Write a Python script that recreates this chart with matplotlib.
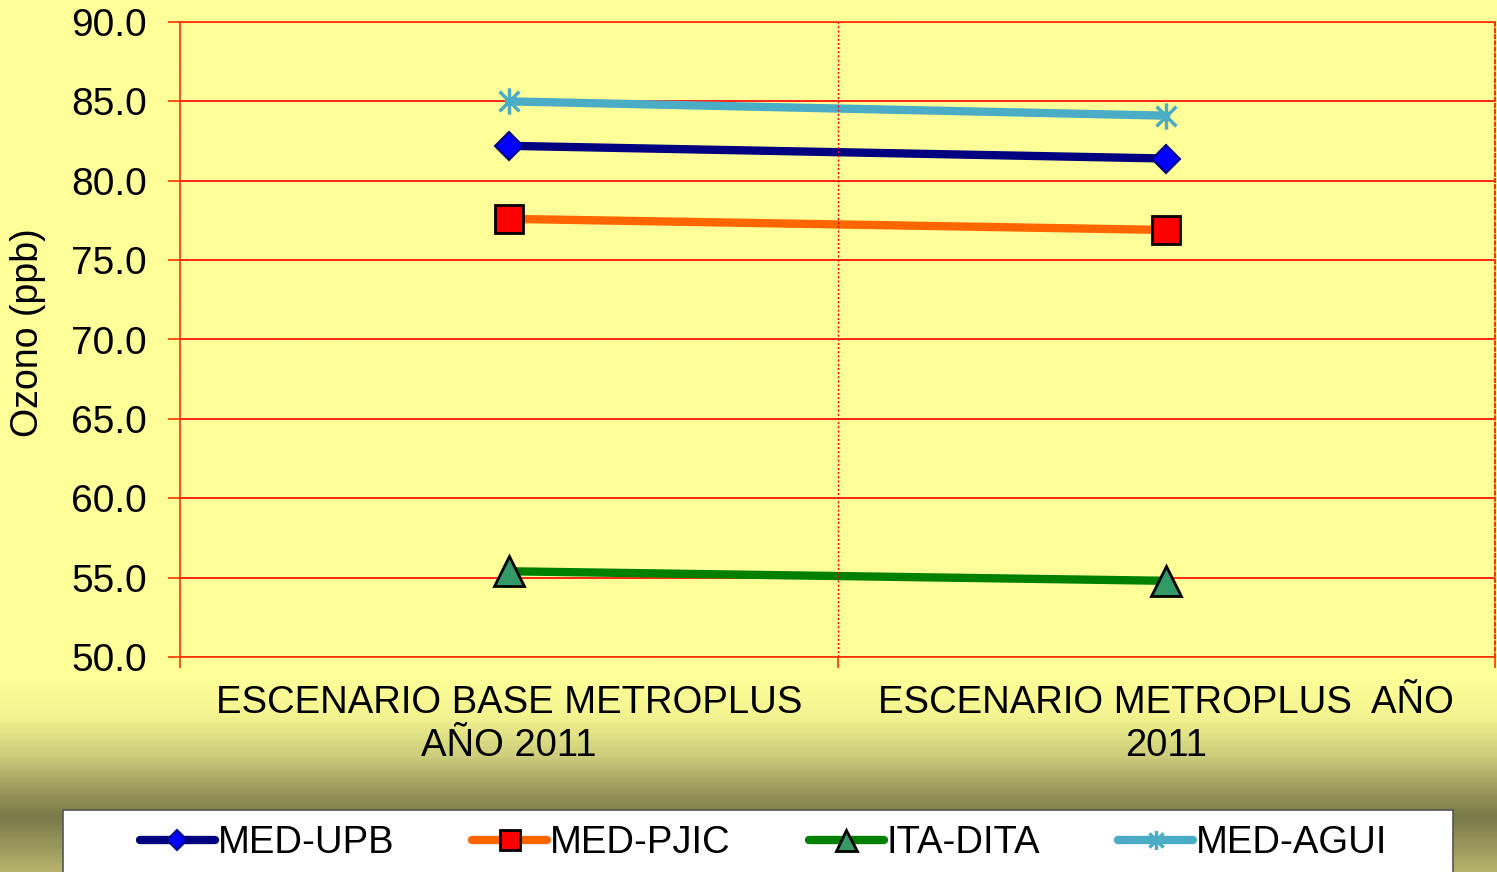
import numpy as np
import matplotlib
matplotlib.use("Agg")
import matplotlib.pyplot as plt
from matplotlib.colors import LinearSegmentedColormap
from matplotlib.path import Path
from matplotlib.patches import Rectangle

plt.rcParams["font.family"] = ["Liberation Sans", "DejaVu Sans"]

# --- data ---
categories = ["ESCENARIO BASE METROPLUS\nAÑO 2011", "ESCENARIO METROPLUS  AÑO\n2011"]
series_names = ["MED-UPB", "MED-PJIC", "ITA-DITA", "MED-AGUI"]
med_upb = [82.2, 81.4]
med_pjic = [77.6, 76.9]
ita_dita = [55.4, 54.8]
med_agui = [85.0, 84.1]
y_ticks = [50, 55, 60, 65, 70, 75, 80, 85, 90]

W, H = 1497, 872
FS = 27.5
fig = plt.figure(figsize=(W / 100, H / 100), dpi=100)

# background gradient (yellow -> olive near the bottom)
bg = fig.add_axes([0, 0, 1, 1], zorder=-10)
stops = [(0.0, "#FFFF99"), (680 / H, "#FFFF99"), (720 / H, "#F2F28F"),
         (760 / H, "#CACA7A"), (795 / H, "#959559"), (820 / H, "#7A7A4A"),
         (1.0, "#B3B16A")]
cmap = LinearSegmentedColormap.from_list("bg", stops)
bg.imshow(np.linspace(0, 1, 400).reshape(-1, 1), aspect="auto", cmap=cmap,
          extent=[0, 1, 0, 1], origin="upper")
bg.set_axis_off()

# plot area
ax = fig.add_axes([180 / W, 1 - 657 / H, (1495 - 180) / W, (657 - 22) / H])
ax.set_facecolor("none")
x = np.arange(len(categories))

asterisk = Path([(0, -1), (0, 1), (-0.75, -0.75), (0.75, 0.75), (-0.75, 0.75), (0.75, -0.75)],
                [Path.MOVETO, Path.LINETO, Path.MOVETO, Path.LINETO, Path.MOVETO, Path.LINETO])

lw = 6
ax.plot(x, med_upb, color="#000080", lw=lw, marker="D", ms=14.5,
        mfc="#0000FF", mec="#000080", mew=1.5, label=series_names[0], solid_capstyle="round")
ax.plot(x, med_pjic, color="#FF6600", lw=lw, marker="s", ms=20,
        mfc="#FF0000", mec="black", mew=2, label=series_names[1], solid_capstyle="round")
ax.plot(x, ita_dita, color="#008000", lw=lw, marker="^", ms=21,
        mfc="#339966", mec="black", mew=2, label=series_names[2], solid_capstyle="round")
ax.plot(x, med_agui, color="#4BACC6", lw=lw, marker=asterisk, ms=19,
        mfc="none", mec="#4BACC6", mew=2.5, label=series_names[3], solid_capstyle="round")

ax.set_xlim(-0.5, 1.5)
ax.set_ylim(50, 90)
ax.set_yticks(y_ticks)
ax.set_yticklabels([f"{v:.1f}" for v in y_ticks], fontsize=28)
ax.set_xticks(x)
ax.set_xticklabels(categories, fontsize=FS, linespacing=1.25)
ax.set_xticks([-0.5, 0.5, 1.5], minor=True)
ax.tick_params(axis="x", which="major", length=0, pad=20)
ax.tick_params(axis="x", which="minor", length=8, color="#FF3300", width=1.2)
ax.tick_params(axis="y", length=9, color="#FF3300", width=1.2, pad=15)

ax.grid(axis="y", color="#FF0000", lw=1.2)
ax.axvline(0.5, color="#FF0000", lw=1.0, ls=(0, (1.5, 1.5)))
for side in ["left", "bottom", "top"]:
    ax.spines[side].set_color("#FF3300")
    ax.spines[side].set_linewidth(1.2)
ax.spines["right"].set_color("#FF3300")
ax.spines["right"].set_linestyle((0, (1.5, 1.5)))
ax.spines["right"].set_linewidth(1.5)
ax.set_axisbelow(True)

fig.text(28 / W, 1 - 333 / H, "Ozono (ppb)", rotation=90, fontsize=27,
         ha="center", va="center")

# legend box
fig.patches.append(Rectangle((63 / W, -0.05), (1453 - 63) / W, 0.05 + (872 - 810) / H,
                             transform=fig.transFigure, facecolor="white",
                             edgecolor="#555555", lw=1.2, zorder=1))
leg = fig.legend(loc="center left", bbox_to_anchor=(140 / W, 1 - 843 / H), ncol=4,
                 frameon=False, fontsize=FS, handlelength=1.96, handletextpad=0.08,
                 columnspacing=2.04, borderaxespad=0, borderpad=0, markerscale=0.72)
leg.set_zorder(2)

fig.savefig("out.png", dpi=100)
